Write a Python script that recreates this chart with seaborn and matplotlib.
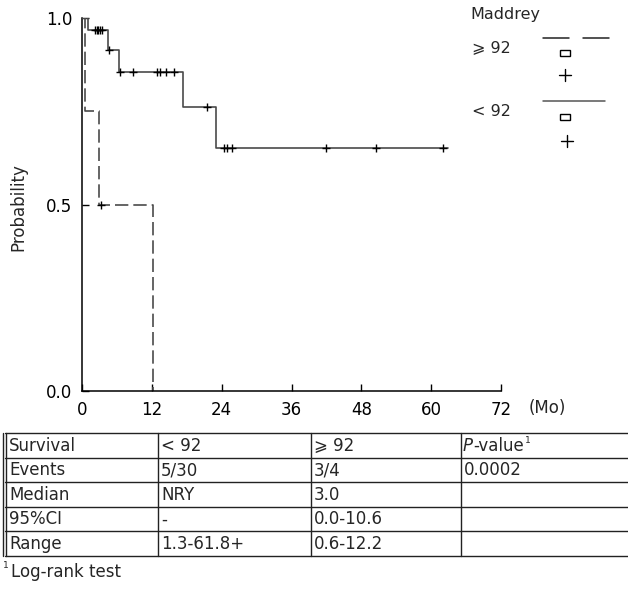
import matplotlib
matplotlib.use("Agg")
import matplotlib.pyplot as plt
from matplotlib.lines import Line2D
from matplotlib.patches import Rectangle
from matplotlib import font_manager
import seaborn as sns
import pandas as pd

# ---------------- data ----------------
lt92_time = [0, 1.1, 4.5, 6.4, 17.3, 23.1, 62.9]
lt92_surv = [1.0, 0.967, 0.914, 0.856, 0.762, 0.652, 0.652]
lt92_cens_time = [2.2, 2.5, 2.8, 3.1, 3.4, 4.7, 6.5, 8.7, 12.9, 13.4, 14.5, 15.8,
                  21.4, 24.4, 25.0, 25.7, 41.9, 50.5, 62.1]
lt92_cens_surv = [0.967] * 5 + [0.914] + [0.856] * 6 + [0.762] + [0.652] * 6

ge92_time = [0, 0.5, 3.0, 12.2]
ge92_surv = [1.0, 0.75, 0.5, 0.0]
ge92_cens_time = [3.2]
ge92_cens_surv = [0.5]

x_ticks = [0, 12, 24, 36, 48, 60, 72]
y_ticks = [0.0, 0.5, 1.0]
y_ticklabels = ["0.0", "0.5", "1.0"]

legend_title = "Maddrey"
group_labels = ["\u2a7e 92", "< 92"]

table_rows = [
    ["Survival", "< 92", "\u2a7e 92", ""],
    ["Events", "5/30", "3/4", "0.0002"],
    ["Median", "NRY", "3.0", ""],
    ["95%CI", "-", "0.0-10.6", ""],
    ["Range", "1.3-61.8+", "0.6-12.2", ""],
]
footnote = "Log-rank test"

# ---------------- figure ----------------
sns.set_style("ticks")
plt.rcParams["font.family"] = ["DejaVu Sans", "Noto Sans"]
W, H = 628, 590
fig = plt.figure(figsize=(W / 100, H / 100), dpi=100)

available = {f.name for f in font_manager.fontManager.ttflist}
if "Liberation Sans Narrow" in available:
    tfont, tsize = ["Liberation Sans Narrow", "DejaVu Sans"], 13.5
elif "DejaVu Sans Condensed" in available:
    tfont, tsize = ["DejaVu Sans Condensed", "DejaVu Sans"], 12.5
else:
    tfont, tsize = ["DejaVu Sans"], 12


def fx(px):
    return px / W


def fy(py):
    return 1 - py / H


ax = fig.add_axes([fx(82), fy(391), fx(501) - fx(82), fy(18) - fy(391)])

line_col = "#4a4a4a"
df_lt = pd.DataFrame({"t": lt92_time, "s": lt92_surv})
df_ge = pd.DataFrame({"t": ge92_time, "s": ge92_surv})
sns.lineplot(data=df_ge, x="t", y="s", ax=ax, estimator=None, sort=False,
             drawstyle="steps-post", color=line_col, linewidth=1.2,
             linestyle=(0, (8, 3)), zorder=2)
sns.lineplot(data=df_lt, x="t", y="s", ax=ax, estimator=None, sort=False,
             drawstyle="steps-post", color=line_col, linewidth=1.2, zorder=3)
sns.scatterplot(x=lt92_cens_time, y=lt92_cens_surv, ax=ax, marker="+",
                s=40, color="black", linewidth=1.0, zorder=4)
sns.scatterplot(x=ge92_cens_time, y=ge92_cens_surv, ax=ax, marker="+",
                s=40, color="black", linewidth=1.0, zorder=4)

ax.set_xlim(0, 72)
ax.set_ylim(0, 1.0)
ax.set_xticks(x_ticks)
ax.set_xticklabels([str(v) for v in x_ticks])
ax.set_yticks(y_ticks)
ax.set_yticklabels(y_ticklabels)
ax.set_xlabel("")
ax.set_ylabel("")
sns.despine(ax=ax)
for sp in ["left", "bottom"]:
    ax.spines[sp].set_linewidth(1.1)
    ax.spines[sp].set_color("black")
ax.tick_params(axis="both", direction="in", length=5, width=1, labelsize=12,
               colors="black", pad=7)
ax.set_facecolor("none")

fig.text(fx(18), fy(207), "Probability", rotation=90, ha="center",
         va="center", fontsize=12)
fig.text(fx(529), fy(408), "(Mo)", ha="left", va="center", fontsize=12)

# ---------------- legend ----------------
fig.text(fx(470), fy(14), legend_title, ha="left", va="center", fontsize=11.5)
fig.text(fx(472), fy(48), group_labels[0], ha="left", va="center", fontsize=11.5)
fig.text(fx(472), fy(112), group_labels[1], ha="left", va="center", fontsize=11.5)


def fig_line(x0, y0, x1, y1, lw=1.0, color="black"):
    fig.add_artist(Line2D([fx(x0), fx(x1)], [fy(y0), fy(y1)], lw=lw,
                          color=color, transform=fig.transFigure))


fig_line(543, 38, 569, 38, lw=1.1, color="#222222")
fig_line(583, 38, 609, 38, lw=1.1, color="#222222")
fig_line(543, 101, 605, 101, lw=1.1, color="#555555")
for yc in (53, 117):
    fig.add_artist(Rectangle((fx(560), fy(yc + 3)), fx(10), 6 / H, fill=False,
                             lw=1.0, edgecolor="black",
                             transform=fig.transFigure))
for xc, yc in ((565, 75), (567, 141)):
    fig_line(xc - 6, yc, xc + 6, yc, lw=1.0)
    fig_line(xc, yc - 6, xc, yc + 6, lw=1.0)

# ---------------- table ----------------
row_y = [433, 457.5, 482, 506.5, 531, 555.5]
col_x = [5, 157, 310, 460]
for y in row_y:
    fig_line(5, y, 628, y, lw=1.0, color="#222222")
fig_line(3.5, row_y[0], 3.5, row_y[-1], lw=1.0, color="#222222")
for x in col_x:
    fig_line(x + 1, row_y[0], x + 1, row_y[-1], lw=1.0, color="#222222")

for r, row in enumerate(table_rows):
    yc = (row_y[r] + row_y[r + 1]) / 2 + 0.5
    for c, txt in enumerate(row):
        if txt:
            fig.text(fx(col_x[c] + 4), fy(yc), txt, ha="left", va="center",
                     fontsize=tsize, family=tfont)

# P-value header with italic P and superscript
fig.canvas.draw()
renderer = fig.canvas.get_renderer()
yc0 = (row_y[0] + row_y[1]) / 2 + 0.5
tP = fig.text(fx(col_x[3] + 3), fy(yc0), "P", ha="left", va="center",
              fontsize=tsize, family=tfont, style="italic")
bb = tP.get_window_extent(renderer)
tV = fig.text(bb.x1 / W, fy(yc0), "-value", ha="left", va="center",
              fontsize=tsize, family=tfont)
bb2 = tV.get_window_extent(renderer)
fig.text(bb2.x1 / W + 1 / W, fy(yc0 - 5), "1", ha="left", va="center",
         fontsize=6.5, family=tfont)

# footnote
fig.text(fx(3), fy(566), "1", ha="left", va="center", fontsize=6.5, family=tfont)
fig.text(fx(11), fy(572), footnote, ha="left", va="center", fontsize=tsize,
         family=tfont)

fig.savefig("out.png", dpi=100)
